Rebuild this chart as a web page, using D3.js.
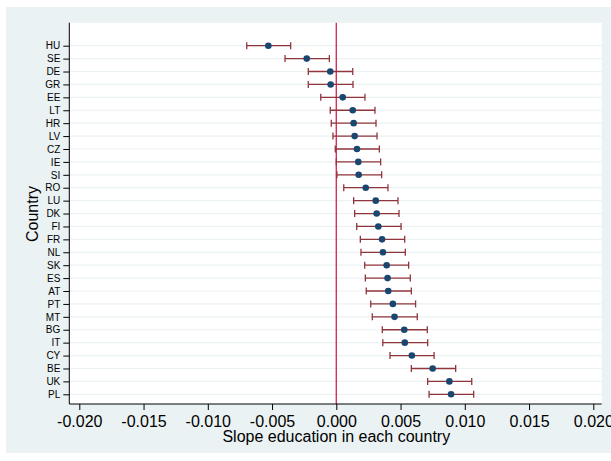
<!DOCTYPE html>
<html>
<head>
<meta charset="utf-8">
<script src="https://cdn.jsdelivr.net/npm/d3@7"></script>
<style>
  html, body { margin: 0; padding: 0; background: #ffffff; }
  svg { display: block; }
  text { font-family: "Liberation Sans", Arial, sans-serif; fill: #000; }
</style>
</head>
<body>
<svg id="chart" width="611" height="461"></svg>
<script>
// Countries, top to bottom
const countries = ["HU","SE","DE","GR","EE","LT","HR","LV","CZ","IE","SI","RO","LU","DK",
                   "FI","FR","NL","SK","ES","AT","PT","MT","BG","IT","CY","BE","UK","PL"];
// Point estimate of the education slope
const slope = [-0.00529,-0.00230,-0.00047,-0.00044,0.00050,0.00128,0.00135,0.00143,0.00161,0.00171,
               0.00174,0.00229,0.00307,0.00314,0.00327,0.00356,0.00363,0.00392,0.00399,0.00404,
               0.00440,0.00453,0.00529,0.00533,0.00588,0.00750,0.00880,0.00893];
// Confidence interval bounds
const ciLow = [-0.00697,-0.00399,-0.00218,-0.00218,-0.00121,-0.00047,-0.00039,-0.00026,-0.00008,0.00000,
               0.00005,0.00058,0.00135,0.00143,0.00159,0.00187,0.00192,0.00221,0.00226,0.00233,
               0.00268,0.00280,0.00358,0.00362,0.00418,0.00584,0.00711,0.00722];
const ciHigh = [-0.00355,-0.00054,0.00128,0.00130,0.00223,0.00301,0.00309,0.00317,0.00335,0.00345,
                0.00353,0.00402,0.00480,0.00488,0.00504,0.00532,0.00537,0.00563,0.00576,0.00584,
                0.00617,0.00630,0.00708,0.00711,0.00761,0.00929,0.01054,0.01069];
const xTicks = [-0.020,-0.015,-0.010,-0.005,0.000,0.005,0.010,0.015,0.020];

const rows = countries.map((c, i) => ({ c, b: slope[i], lo: ciLow[i], hi: ciHigh[i] }));

const svg = d3.select("#chart");

// Outer graph region
svg.append("rect").attr("x", 6).attr("y", 7).attr("width", 605).attr("height", 446)
  .attr("fill", "#eaf2f3");

const plot = { left: 69.3, right: 601.7, top: 22.7, bottom: 404 };
svg.append("rect").attr("x", plot.left).attr("y", plot.top)
  .attr("width", plot.right - plot.left).attr("height", plot.bottom - plot.top)
  .attr("fill", "#ffffff");

const x = d3.scaleLinear().domain([-0.020, 0.020]).range([79.3, 593.3]);
const y = d3.scalePoint().domain(countries).range([45.7, 394.3]);

// Horizontal grid lines
svg.append("g").selectAll("line").data(countries).join("line")
  .attr("x1", plot.left).attr("x2", plot.right)
  .attr("y1", d => y(d)).attr("y2", d => y(d))
  .attr("stroke", "#eaf2f3").attr("stroke-width", 1.2);

// Zero reference line
svg.append("line")
  .attr("x1", x(0)).attr("x2", x(0)).attr("y1", plot.top).attr("y2", plot.bottom)
  .attr("stroke", "#d3325a").attr("stroke-width", 1.4);

// Confidence intervals with caps
const ci = svg.append("g").attr("stroke", "#90353b").attr("stroke-width", 1.3);
ci.selectAll("line.bar").data(rows).join("line").attr("class", "bar")
  .attr("x1", d => x(d.lo)).attr("x2", d => x(d.hi))
  .attr("y1", d => y(d.c)).attr("y2", d => y(d.c));
ci.selectAll("line.lo").data(rows).join("line").attr("class", "lo")
  .attr("x1", d => x(d.lo)).attr("x2", d => x(d.lo))
  .attr("y1", d => y(d.c) - 3.5).attr("y2", d => y(d.c) + 3.5);
ci.selectAll("line.hi").data(rows).join("line").attr("class", "hi")
  .attr("x1", d => x(d.hi)).attr("x2", d => x(d.hi))
  .attr("y1", d => y(d.c) - 3.5).attr("y2", d => y(d.c) + 3.5);

// Point estimates
svg.append("g").selectAll("circle").data(rows).join("circle")
  .attr("cx", d => x(d.b)).attr("cy", d => y(d.c)).attr("r", 3.3)
  .attr("fill", "#1a476f");

// Y axis
const yAxis = svg.append("g").attr("transform", `translate(${plot.left},0)`)
  .call(d3.axisLeft(y).tickSize(6).tickPadding(3));
yAxis.select(".domain").attr("d", `M0,${plot.top}V${plot.bottom}`).attr("stroke", "#000");
yAxis.selectAll(".tick line").attr("stroke", "#000");
yAxis.selectAll(".tick text").attr("font-size", 10).attr("font-family", "Liberation Sans, Arial, sans-serif")
  .attr("fill", "#000");

// X axis
const xAxis = svg.append("g").attr("transform", `translate(0,${plot.bottom})`)
  .call(d3.axisBottom(x).tickValues(xTicks).tickFormat(d3.format(".3f")).tickSize(6).tickPadding(6));
xAxis.select(".domain").attr("d", `M${plot.left},0H${plot.right}`).attr("stroke", "#000");
xAxis.selectAll(".tick line").attr("stroke", "#000");
xAxis.selectAll(".tick text").attr("font-size", 16).attr("font-family", "Liberation Sans, Arial, sans-serif")
  .attr("fill", "#000").text(d => d3.format(".3f")(d).replace("−", "-"));

// Axis titles
svg.append("text").attr("x", x(0)).attr("y", 442).attr("text-anchor", "middle")
  .attr("font-size", 16).text("Slope education in each country");
svg.append("text").attr("transform", "translate(38,214) rotate(-90)").attr("text-anchor", "middle")
  .attr("font-size", 16).text("Country");
</script>
</body>
</html>
